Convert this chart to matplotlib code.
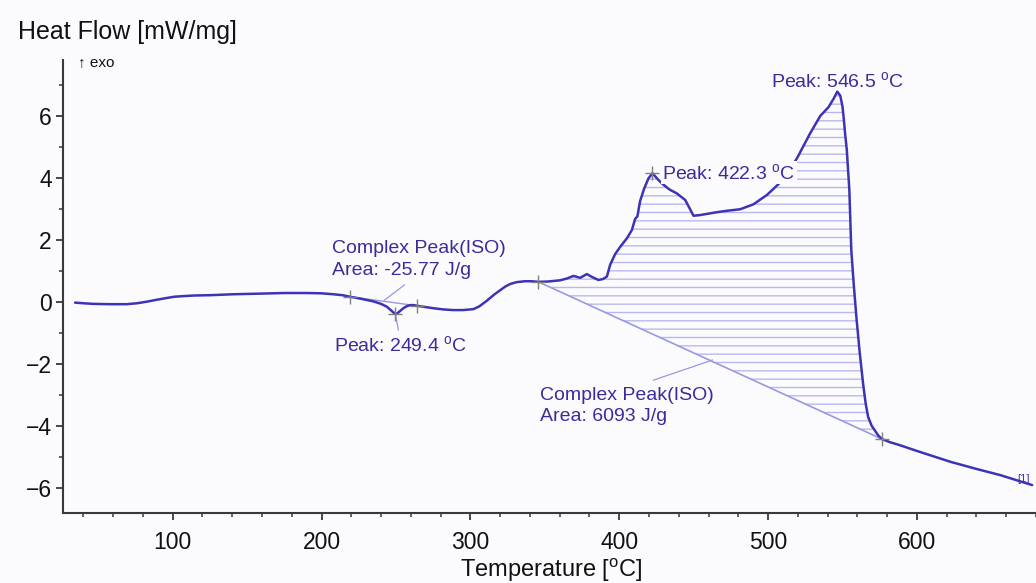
import numpy as np
import matplotlib
matplotlib.use("Agg")
import matplotlib.pyplot as plt
from matplotlib.ticker import MultipleLocator

plt.rcParams["font.family"] = ["Liberation Sans", "DejaVu Sans"]
plt.rcParams["mathtext.fontset"] = "custom"
plt.rcParams["mathtext.rm"] = "Liberation Sans"
plt.rcParams["mathtext.it"] = "Liberation Sans:italic"

# DSC heat-flow trace
temperature = [34.4, 40.0, 46.6, 58.0, 69.1, 76.0, 82.5, 89.0, 96.0, 101.0,
               107.1, 115.0, 125.1, 140.7, 158.7, 175.0, 190.0, 200.0, 207.9,
               214.0, 219.2, 227.0, 234.8, 240.0, 243.8, 246.5, 248.3, 249.4,
               250.5, 252.5, 255.0, 257.5, 259.5, 262.0, 264.0, 268.0, 275.1,
               282.0, 288.6, 295.0, 302.0, 306.0, 311.0, 316.0, 320.0, 323.5,
               326.7, 331.0, 336.8, 341.0, 345.7, 352.0, 360.3, 365.0, 369.2,
               373.8, 378.2, 381.6, 386.0, 389.0, 391.7, 393.9, 397.3, 401.0,
               405.1, 408.5, 410.7, 412.2, 414.0, 416.7, 419.6, 422.3, 426.0,
               429.7, 434.0, 438.7, 444.3, 447.5, 449.9, 454.0, 458.9, 465.0,
               472.3, 481.3, 490.2, 499.2, 507.0, 513.0, 519.4, 524.0, 528.3,
               535.1, 540.6, 544.0, 546.5, 548.5, 550.0, 550.7, 551.8, 552.9,
               554.6, 555.9, 557.5, 559.3, 561.5, 563.8, 565.5, 567.2, 569.5,
               571.6, 574.0, 576.6, 582.0, 588.9, 600.0, 622.5, 640.0, 656.1,
               677.4]
heat_flow = [-0.02, -0.04, -0.06, -0.07, -0.07, -0.04, 0.01, 0.07, 0.13, 0.17,
             0.19, 0.21, 0.22, 0.25, 0.27, 0.29, 0.29, 0.28, 0.25,
             0.22, 0.17, 0.10, 0.02, -0.06, -0.15, -0.26, -0.34, -0.38,
             -0.38, -0.30, -0.20, -0.13, -0.10, -0.10, -0.12, -0.15, -0.20,
             -0.24, -0.26, -0.26, -0.23, -0.14, 0.04, 0.24, 0.38, 0.50,
             0.58, 0.64, 0.67, 0.67, 0.65, 0.66, 0.70, 0.76, 0.84,
             0.78, 0.90, 0.81, 0.71, 0.74, 0.82, 1.20, 1.55, 1.80,
             2.05, 2.32, 2.68, 2.76, 3.25, 3.65, 3.98, 4.15, 3.95,
             3.78, 3.62, 3.50, 3.29, 3.00, 2.78, 2.80, 2.84, 2.89,
             2.94, 2.99, 3.15, 3.45, 3.80, 4.15, 4.63, 5.05, 5.44,
             6.00, 6.28, 6.55, 6.78, 6.65, 6.30, 5.98, 5.40, 4.90,
             3.61, 1.68, 0.60, -0.47, -1.60, -2.62, -3.25, -3.70, -3.98,
             -4.13, -4.30, -4.42, -4.52, -4.62, -4.80, -5.15, -5.38, -5.58,
             -5.90]

# Evaluated peaks: (temperature, heat flow)
small_peak_limits = [(219.2, 0.17), (264.0, -0.12)]
small_peak_top = (249.4, -0.38)
large_peak_limits = [(345.7, 0.65), (576.6, -4.42)]
peak_422 = (422.3, 4.15)
peak_546 = (546.5, 6.78)

small_area = -25.77
large_area = 6093

line_col = "#3d33b5"
text_col = "#3a2c9a"
base_col = "#9a98e2"
hatch_col = "#b9b8ee"
bg = "#fbfbfd"

fig = plt.figure(figsize=(10.36, 5.83), dpi=100, facecolor=bg)
ax = fig.add_axes([63 / 1036, 1 - 513 / 583, 1 - 63 / 1036, (513 - 60) / 583])
ax.set_facecolor(bg)

T = np.array(temperature)
H = np.array(heat_flow)

# Hatched area between curve and the straight baseline of the large peak
(t0, h0), (t1, h1) = large_peak_limits
mask = (T >= t0) & (T <= t1)
baseline = np.interp(T[mask], [t0, t1], [h0, h1])
ax.fill_between(T[mask], baseline, H[mask], facecolor="none",
                edgecolor=hatch_col, hatch="--", linewidth=0, zorder=1)
ax.plot([t0, t1], [h0, h1], color=base_col, lw=1.2, zorder=2)

# Baseline of the small peak
(s0, g0), (s1, g1) = small_peak_limits
ax.plot([s0, s1], [g0, g1], color=base_col, lw=1.0, zorder=2)

# Leader lines
ax.plot([242.2, 255.7], [0.06, 0.55], color=base_col, lw=0.9, zorder=2)
ax.plot([249.4, 251.6], [-0.31, -0.9], color=base_col, lw=0.9, zorder=2)
ax.plot([422.9, 462.6], [-2.52, -1.87], color=base_col, lw=0.9, zorder=2)

ax.plot(T, H, color=line_col, lw=1.8, zorder=3,
        solid_capstyle="round", solid_joinstyle="round")

# Evaluation markers
marks = small_peak_limits + [small_peak_top] + large_peak_limits + [peak_422]
ax.plot([m[0] for m in marks], [m[1] for m in marks], linestyle="none",
        marker="+", markersize=10, markeredgewidth=1.0, color="#808080", zorder=4)

ax.text(T[-1] - 1.5, H[-1] + 0.2, "[1]", color=line_col, fontsize=8,
        ha="right", va="center", zorder=5)

deg = r"$^{\mathrm{o}}$C"
fs = 14
ax.text(207.2, 1.74, "Complex Peak(ISO)", color=text_col, fontsize=fs, va="center")
ax.text(207.2, 1.03, f"Area: {small_area:.2f} J/g", color=text_col, fontsize=fs, va="center")
ax.text(208.4, -1.39, f"Peak: {small_peak_top[0]:.1f} " + deg, color=text_col,
        fontsize=fs, va="center")
ax.text(347.0, -3.0, "Complex Peak(ISO)", color=text_col, fontsize=fs, va="center")
ax.text(347.0, -3.68, f"Area: {large_area} J/g", color=text_col, fontsize=fs, va="center")
ax.text(peak_422[0] + 6.5, peak_422[1] + 0.02, f"Peak: {peak_422[0]:.1f} " + deg,
        color=text_col, fontsize=fs, va="center", zorder=6,
        bbox=dict(facecolor=bg, edgecolor="none", pad=1.0))
ax.text(peak_546[0], 7.13, f"Peak: {peak_546[0]:.1f} " + deg, color=text_col,
        fontsize=fs, va="center", ha="center")

ax.set_xlim(26.3, 680)
ax.set_ylim(-6.8, 7.8)
ax.xaxis.set_major_locator(MultipleLocator(100))
ax.xaxis.set_minor_locator(MultipleLocator(20))
ax.yaxis.set_major_locator(MultipleLocator(2))
ax.yaxis.set_minor_locator(MultipleLocator(1))

for side in ("top", "right"):
    ax.spines[side].set_visible(False)
for side in ("left", "bottom"):
    ax.spines[side].set_color("#3a3a3a")
    ax.spines[side].set_linewidth(1.5)

ax.tick_params(which="major", direction="out", length=5, width=1.3,
               color="#3a3a3a", labelsize=16.5, labelcolor="#111111", pad=3)
ax.tick_params(which="minor", direction="out", length=3, width=1.1, color="#3a3a3a")
ax.tick_params(axis="x", which="major", pad=8)

fig.text(18 / 1036, 1 - 32 / 583, "Heat Flow [mW/mg]", fontsize=18,
         color="#111111", va="center", ha="left")
fig.text(78 / 1036, 1 - 62 / 583, "\u2191 exo", fontsize=11, color="#111111",
         va="center", ha="left")
fig.text(551 / 1036, 1 - 577 / 583, "Temperature [" + r"$^{\mathrm{o}}$" + "C]",
         fontsize=17, color="#111111", va="baseline", ha="center")

fig.savefig("out.png", dpi=100, facecolor=bg)
